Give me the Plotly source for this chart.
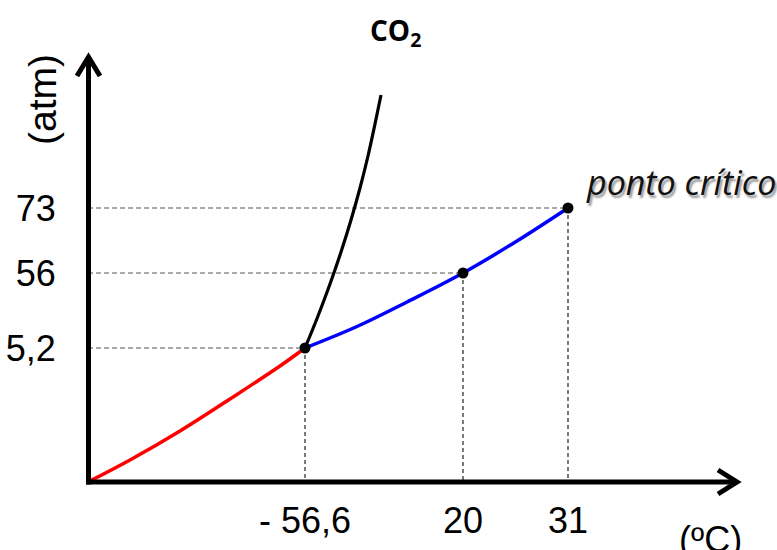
import plotly.graph_objects as go

# Schematic phase diagram of CO2 (axes are not to scale: units are offsets from the origin)
temp_labels = ["- 56,6", "20", "31"]
temp_pos = [217, 375, 480]
pres_labels = ["5,2", "56", "73"]
pres_pos = [134, 209, 274]

# marked points: triple point, (20 ºC, 56 atm), critical point
pt_x = [217, 375, 480]
pt_y = [134, 209, 274]

# sublimation curve (red)
sub_x = [0, 42, 92, 142, 192, 217]
sub_y = [0, 22, 51, 83, 116, 134]
# vaporisation curve (blue)
vap_x = [217, 269, 319, 375, 429, 480]
vap_y = [134, 155.5, 180, 209, 241, 274]
# fusion curve (black)
fus_x = [217, 230, 242, 253, 263, 272, 280, 287, 293]
fus_y = [134, 166, 198, 230, 262, 294, 326, 358, 387]

W, H = 777, 550
L, B = 88, 68
PW, PH = W - L, H - B

fig = go.Figure()

# dashed guide lines from each point to both axes
for x, y in zip(pt_x, pt_y):
    fig.add_trace(go.Scatter(x=[0, x], y=[y, y], mode="lines",
                             line=dict(color="#555", width=1.2, dash="5px,3px"),
                             hoverinfo="skip", showlegend=False))
    fig.add_trace(go.Scatter(x=[x, x], y=[y, 0], mode="lines",
                             line=dict(color="#222", width=1.2, dash="4px,3px"),
                             hoverinfo="skip", showlegend=False))

fig.add_trace(go.Scatter(x=sub_x, y=sub_y, mode="lines", line=dict(color="#ff0000", width=3.5, shape="spline"),
                         showlegend=False, cliponaxis=False))
fig.add_trace(go.Scatter(x=vap_x, y=vap_y, mode="lines", line=dict(color="#0000ff", width=3.5, shape="spline"),
                         showlegend=False, cliponaxis=False))
fig.add_trace(go.Scatter(x=fus_x, y=fus_y, mode="lines", line=dict(color="#000000", width=3.2, shape="spline"),
                         showlegend=False, cliponaxis=False))
fig.add_trace(go.Scatter(x=pt_x, y=pt_y, mode="markers", marker=dict(color="black", size=11),
                         showlegend=False, cliponaxis=False))


def P(xp, yp):
    return (xp - L) / PW, (H - B - yp) / PH


def path(pts):
    s = []
    for i, (xp, yp) in enumerate(pts):
        px, py = P(xp, yp)
        s.append(("M" if i == 0 else "L") + f"{px:.5f},{py:.5f}")
    return " ".join(s)


axis_style = dict(color="black", width=5)
shapes = [
    dict(type="path", xref="paper", yref="paper", path=path([(88.5, 484.5), (88.5, 57)]), line=axis_style),
    dict(type="path", xref="paper", yref="paper", path=path([(77, 76), (88.5, 57), (100, 76)]), line=axis_style),
    dict(type="path", xref="paper", yref="paper", path=path([(86, 482), (737, 482)]), line=axis_style),
    dict(type="path", xref="paper", yref="paper", path=path([(718, 470), (737, 482), (718, 494)]), line=axis_style),
]

tick_font = dict(family="Liberation Sans, Arial, sans-serif", size=36, color="black")

annotations = [
    dict(x=P(395, 0)[0], y=P(0, 32)[1], xref="paper", yref="paper", text="<b>CO<sub>2</sub></b>",
         showarrow=False, font=dict(family="Open Sans, sans-serif", size=28, color="black"),
         xanchor="center", yanchor="middle"),
    dict(x=P(584, 0)[0], y=P(0, 182)[1], xref="paper", yref="paper", text="<i>ponto crítico</i>",
         showarrow=False, font=dict(family="Open Sans, sans-serif", size=34, color="#111",
                                    shadow="2px 3px 2px #9a9a9a"),
         xanchor="left", yanchor="middle"),
    dict(x=P(42, 0)[0], y=P(0, 100)[1], xref="paper", yref="paper", text="(atm)", textangle=-90,
         showarrow=False, font=dict(family="Liberation Sans, Arial, sans-serif", size=39, color="black"),
         xanchor="center", yanchor="middle"),
    dict(x=P(710, 0)[0], y=P(0, 539)[1], xref="paper", yref="paper", text="(ºC)",
         showarrow=False, font=tick_font, xanchor="center", yanchor="middle"),
]

fig.update_layout(
    template="none",
    width=W, height=H,
    margin=dict(l=L, r=0, t=0, b=B, pad=0),
    paper_bgcolor="white", plot_bgcolor="white",
    showlegend=False,
    shapes=shapes,
    annotations=annotations,
    xaxis=dict(range=[0, PW], showgrid=False, zeroline=False, showline=False,
               tickmode="array", tickvals=temp_pos, ticktext=temp_labels,
               ticks="outside", ticklen=7, tickcolor="rgba(0,0,0,0)",
               tickfont=tick_font, automargin=False, fixedrange=True),
    yaxis=dict(range=[0, PH], showgrid=False, zeroline=False, showline=False,
               tickmode="array", tickvals=pres_pos, ticktext=pres_labels,
               ticks="outside", ticklen=24, tickcolor="rgba(0,0,0,0)",
               tickfont=tick_font, automargin=False, fixedrange=True),
)

fig.write_html("out.html", config={"displayModeBar": False},
               post_script="document.body.style.margin='0px';document.body.style.overflow='hidden';")
